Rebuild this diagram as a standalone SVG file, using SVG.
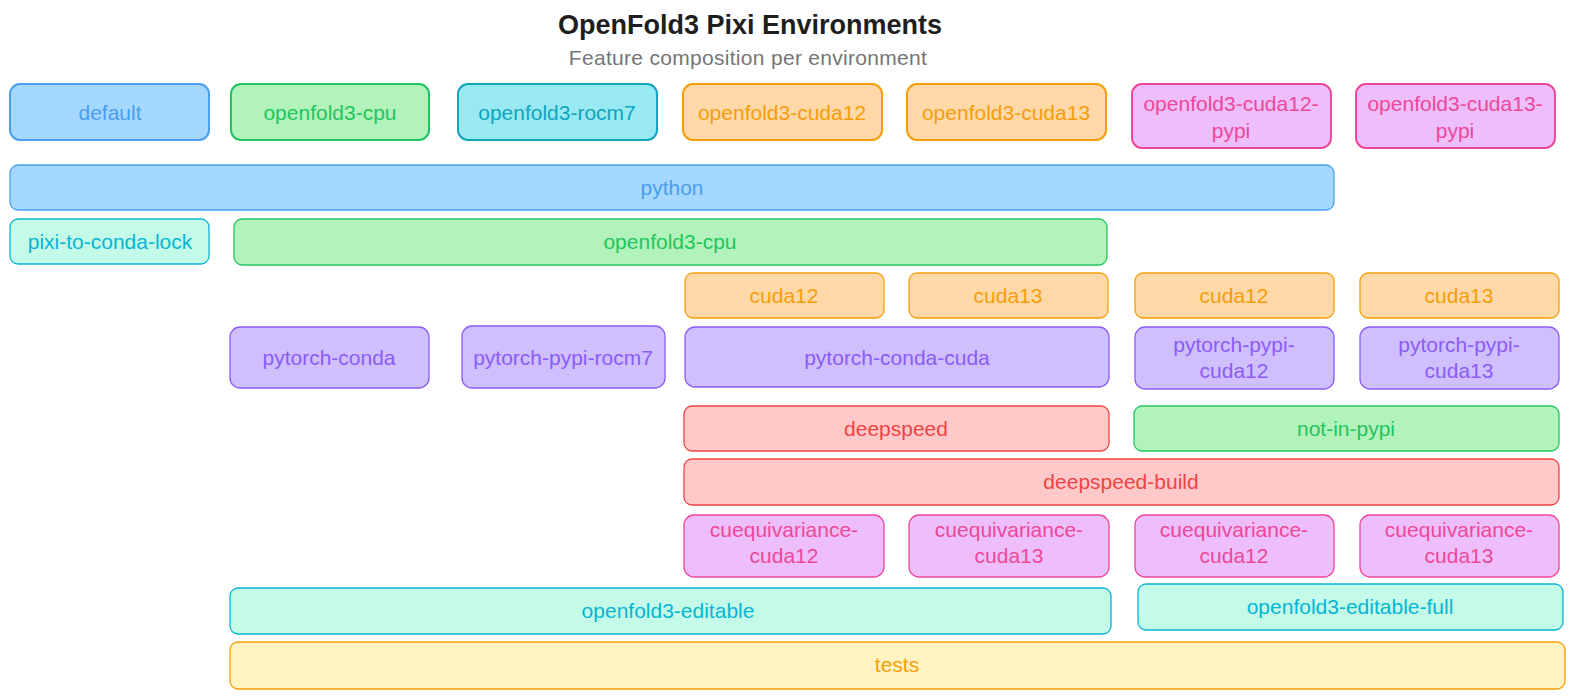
<svg xmlns="http://www.w3.org/2000/svg" width="1575" height="699" viewBox="0 0 1575 699">
<style>
text{font-family:"Liberation Sans",Arial,sans-serif;font-size:21px;text-anchor:middle;dominant-baseline:central}
rect{stroke-width:1.3}
.env rect{stroke-width:2}
.blue rect{fill:#a5d8ff;stroke:#4a9eed}.blue text{fill:#4a9eed}
.green rect{fill:#b2f2bb;stroke:#22c55e}.green text{fill:#22c55e}
.cyan rect{fill:#99e9f2;stroke:#0fa5bd}.cyan text{fill:#0fa5bd}
.orange rect{fill:#ffd8a8;stroke:#f59e0b}.orange text{fill:#f59e0b}
.pink rect{fill:#eebefa;stroke:#ec4899}.pink text{fill:#ec4899}
.teal rect{fill:#c3fae8;stroke:#06b6d4}.teal text{fill:#06b6d4}
.purple rect{fill:#d0bfff;stroke:#8b5cf6}.purple text{fill:#8b5cf6}
.red rect{fill:#ffc9c9;stroke:#ef4444}.red text{fill:#ef4444}
.yellow rect{fill:#fff3bf;stroke:#f59e0b}.yellow text{fill:#f59e0b}
.title{font-size:27px;font-weight:bold;fill:#1e1e1e}
.sub{font-size:21px;fill:#757575;letter-spacing:0.3px}
</style>
<g id="title"><text class="title" x="750" y="25">OpenFold3 Pixi Environments</text><text class="sub" x="748" y="57">Feature composition per environment</text></g>
<g id="env-default" class="env blue"><rect x="10" y="84" width="199" height="56" rx="10"/><text x="110" y="112">default</text></g>
<g id="env-openfold3-cpu" class="env green"><rect x="231" y="84" width="198" height="56" rx="10"/><text x="330" y="112">openfold3-cpu</text></g>
<g id="env-openfold3-rocm7" class="env cyan"><rect x="458" y="84" width="199" height="56" rx="10"/><text x="557" y="112">openfold3-rocm7</text></g>
<g id="env-openfold3-cuda12" class="env orange"><rect x="683" y="84" width="199" height="56" rx="10"/><text x="782" y="112">openfold3-cuda12</text></g>
<g id="env-openfold3-cuda13" class="env orange"><rect x="907" y="84" width="199" height="56" rx="10"/><text x="1006" y="112">openfold3-cuda13</text></g>
<g id="env-openfold3-cuda12-pypi" class="env pink"><rect x="1132" y="84" width="199" height="64" rx="10"/><text x="1231" y="103">openfold3-cuda12-</text><text x="1231" y="130">pypi</text></g>
<g id="env-openfold3-cuda13-pypi" class="env pink"><rect x="1356" y="84" width="199" height="64" rx="10"/><text x="1455" y="103">openfold3-cuda13-</text><text x="1455" y="130">pypi</text></g>
<g id="f-python" class="blue"><rect x="10" y="165" width="1324" height="45" rx="8"/><text x="672" y="187">python</text></g>
<g id="f-pixi-to-conda-lock" class="teal"><rect x="10" y="219" width="199" height="45" rx="8"/><text x="110" y="241">pixi-to-conda-lock</text></g>
<g id="f-openfold3-cpu" class="green"><rect x="234" y="219" width="873" height="46" rx="8"/><text x="670" y="241">openfold3-cpu</text></g>
<g id="f-cuda12-a" class="orange"><rect x="685" y="273" width="199" height="45" rx="8"/><text x="784" y="295">cuda12</text></g>
<g id="f-cuda13-a" class="orange"><rect x="909" y="273" width="199" height="45" rx="8"/><text x="1008" y="295">cuda13</text></g>
<g id="f-cuda12-b" class="orange"><rect x="1135" y="273" width="199" height="45" rx="8"/><text x="1234" y="295">cuda12</text></g>
<g id="f-cuda13-b" class="orange"><rect x="1360" y="273" width="199" height="45" rx="8"/><text x="1459" y="295">cuda13</text></g>
<g id="f-pytorch-conda" class="purple"><rect x="230" y="327" width="199" height="61" rx="10"/><text x="329" y="357">pytorch-conda</text></g>
<g id="f-pytorch-pypi-rocm7" class="purple"><rect x="462" y="326" width="203" height="62" rx="10"/><text x="563" y="357">pytorch-pypi-rocm7</text></g>
<g id="f-pytorch-conda-cuda" class="purple"><rect x="685" y="327" width="424" height="60" rx="10"/><text x="897" y="357">pytorch-conda-cuda</text></g>
<g id="f-pytorch-pypi-cuda12" class="purple"><rect x="1135" y="327" width="199" height="62" rx="10"/><text x="1234" y="344">pytorch-pypi-</text><text x="1234" y="370">cuda12</text></g>
<g id="f-pytorch-pypi-cuda13" class="purple"><rect x="1360" y="327" width="199" height="62" rx="10"/><text x="1459" y="344">pytorch-pypi-</text><text x="1459" y="370">cuda13</text></g>
<g id="f-deepspeed" class="red"><rect x="684" y="406" width="425" height="45" rx="8"/><text x="896" y="428">deepspeed</text></g>
<g id="f-not-in-pypi" class="green"><rect x="1134" y="406" width="425" height="45" rx="8"/><text x="1346" y="428">not-in-pypi</text></g>
<g id="f-deepspeed-build" class="red"><rect x="684" y="459" width="875" height="46" rx="8"/><text x="1121" y="481">deepspeed-build</text></g>
<g id="f-cuequivariance-cuda12-a" class="pink"><rect x="684" y="515" width="200" height="62" rx="10"/><text x="784" y="529">cuequivariance-</text><text x="784" y="555">cuda12</text></g>
<g id="f-cuequivariance-cuda13-a" class="pink"><rect x="909" y="515" width="200" height="62" rx="10"/><text x="1009" y="529">cuequivariance-</text><text x="1009" y="555">cuda13</text></g>
<g id="f-cuequivariance-cuda12-b" class="pink"><rect x="1135" y="515" width="199" height="62" rx="10"/><text x="1234" y="529">cuequivariance-</text><text x="1234" y="555">cuda12</text></g>
<g id="f-cuequivariance-cuda13-b" class="pink"><rect x="1360" y="515" width="199" height="62" rx="10"/><text x="1459" y="529">cuequivariance-</text><text x="1459" y="555">cuda13</text></g>
<g id="f-openfold3-editable" class="teal"><rect x="230" y="588" width="881" height="46" rx="8"/><text x="668" y="610">openfold3-editable</text></g>
<g id="f-openfold3-editable-full" class="teal"><rect x="1138" y="584" width="425" height="46" rx="8"/><text x="1350" y="606">openfold3-editable-full</text></g>
<g id="f-tests" class="yellow"><rect x="230" y="642" width="1335" height="47" rx="8"/><text x="897" y="664">tests</text></g>
<g id="connectors"/>
</svg>
